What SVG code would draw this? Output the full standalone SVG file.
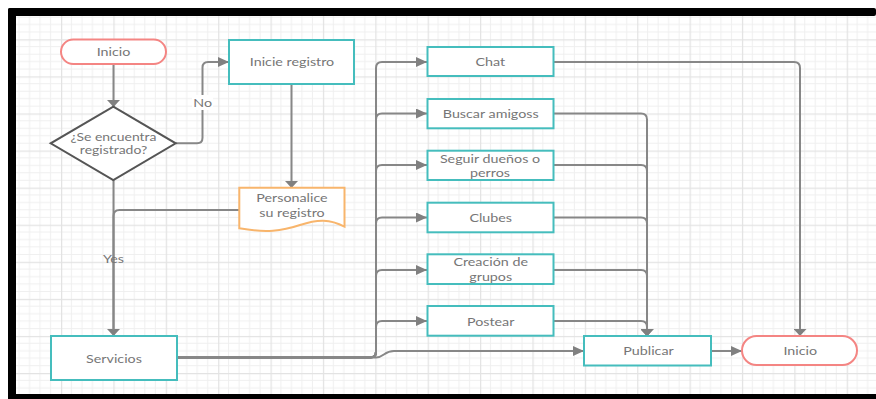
<svg xmlns="http://www.w3.org/2000/svg" width="876" height="399" viewBox="0 0 876 399">
  <style>
    text { font-family: Lato, "Open Sans", "Liberation Sans", sans-serif; font-size: 11px; fill: #767676; text-anchor: middle; }
    .proc { fill: #ffffff; stroke: #45bdbd; stroke-width: 2; }
    .term { fill: #ffffff; stroke: #f48583; stroke-width: 2; }
    .doc { fill: #ffffff; stroke: #f8b56c; stroke-width: 2; }
    .dec { fill: #ffffff; stroke: #555555; stroke-width: 2; }
    .wire { fill: none; stroke: #878787; stroke-width: 2; }
    .lbl { fill: #ffffff; }
  </style>
  <defs>
    <pattern id="grid" patternUnits="userSpaceOnUse" x="61" y="39.3" width="52.38" height="37.08">
      <g stroke="#efefef" stroke-width="1">
        <line x1="10.476" y1="0" x2="10.476" y2="37.08"/>
        <line x1="20.952" y1="0" x2="20.952" y2="37.08"/>
        <line x1="31.428" y1="0" x2="31.428" y2="37.08"/>
        <line x1="41.904" y1="0" x2="41.904" y2="37.08"/>
        <line x1="0" y1="7.416" x2="52.38" y2="7.416"/>
        <line x1="0" y1="14.832" x2="52.38" y2="14.832"/>
        <line x1="0" y1="22.248" x2="52.38" y2="22.248"/>
        <line x1="0" y1="29.664" x2="52.38" y2="29.664"/>
      </g>
      <g stroke="#e3e3e3" stroke-width="1.5">
        <line x1="0.5" y1="0" x2="0.5" y2="37.08"/>
        <line x1="0" y1="0.5" x2="52.38" y2="0.5"/>
      </g>
    </pattern>
    <marker id="arrH" markerUnits="userSpaceOnUse" markerWidth="11" markerHeight="10" refX="11" refY="5" orient="auto">
      <path d="M0,0 L11,5 L0,10 Z" fill="#808080"/>
    </marker>
    <marker id="arrV" markerUnits="userSpaceOnUse" markerWidth="7" markerHeight="13" refX="7" refY="6.5" orient="auto">
      <path d="M0,0 L7,6.5 L0,13 Z" fill="#808080"/>
    </marker>
  </defs>

  <!-- page and frame -->
  <rect x="0" y="0" width="876" height="399" fill="#ffffff"/>
  <rect x="16" y="16" width="860" height="378" fill="url(#grid)"/>
  <g fill="#000000">
    <rect x="8" y="8" width="868" height="8" rx="2"/>
    <rect x="8" y="8" width="8" height="391" rx="2"/>
    <rect x="8" y="394" width="868" height="5"/>
  </g>

  <!-- connectors -->
  <g id="connectors">
    <path class="wire" d="M113.5,64 V107" marker-end="url(#arrV)"/>
    <path class="wire" d="M176,143.3 H197 Q202.5,143.3 202.5,137.8 V67.5 Q202.5,62 208,62 H229" marker-end="url(#arrH)"/>
    <path class="wire" d="M113.5,180 V336" marker-end="url(#arrV)"/>
    <path class="wire" d="M291.5,84 V188" marker-end="url(#arrV)"/>
    <path class="wire" d="M239,210 H119.5 Q113.5,210 113.5,216 V330"/>

    <path class="wire" d="M177,357.5 H370 Q376,357.5 376,351.5 V68 Q376,62 382,62 H427" marker-end="url(#arrH)"/>
    <path class="wire" d="M177,357.5 H370 Q376,357.5 376,351.5 V119.5 Q376,113.5 382,113.5 H427" marker-end="url(#arrH)"/>
    <path class="wire" d="M177,357.5 H370 Q376,357.5 376,351.5 V171 Q376,165 382,165 H427" marker-end="url(#arrH)"/>
    <path class="wire" d="M177,357.5 H370 Q376,357.5 376,351.5 V223.5 Q376,217.5 382,217.5 H427" marker-end="url(#arrH)"/>
    <path class="wire" d="M177,357.5 H370 Q376,357.5 376,351.5 V276 Q376,270 382,270 H427" marker-end="url(#arrH)"/>
    <path class="wire" d="M177,357.5 H370 Q376,357.5 376,351.5 V327 Q376,321 382,321 H427" marker-end="url(#arrH)"/>
    <path class="wire" d="M177,357.5 H376 C384,357.5 384,351 394,351 H584" marker-end="url(#arrH)"/>

    <path class="wire" d="M553,62 H794 Q800,62 800,68 V336" marker-end="url(#arrV)"/>
    <path class="wire" d="M553,113.5 H641 Q647,113.5 647,119.5 V336" marker-end="url(#arrV)"/>
    <path class="wire" d="M553,165 H641 Q647,165 647,171 V336" marker-end="url(#arrV)"/>
    <path class="wire" d="M553,217.5 H641 Q647,217.5 647,223.5 V336" marker-end="url(#arrV)"/>
    <path class="wire" d="M553,270 H641 Q647,270 647,276 V336" marker-end="url(#arrV)"/>
    <path class="wire" d="M553,321 H641 Q647,321 647,327 V336" marker-end="url(#arrV)"/>
    <path class="wire" d="M711,351 H742" marker-end="url(#arrH)"/>

    <rect class="lbl" x="192" y="95" width="21" height="15"/>
    <text transform="translate(202.7,106.7) scale(1.3,1)">No</text>
    <text transform="translate(113.5,263.3) scale(1.3,1)">Yes</text>
  </g>

  <!-- nodes -->
  <g id="inicio-start">
    <rect class="term" x="61" y="39.5" width="105" height="24.5" rx="12.25"/>
    <text transform="translate(113.5,56) scale(1.3,1)">Inicio</text>
  </g>
  <g id="registrado">
    <polygon class="dec" points="113.3,106.7 175.7,143.3 113.3,180 50.7,143.3"/>
    <text transform="translate(113.5,140.7) scale(1.27,1)">¿Se encuentra</text>
    <text transform="translate(113.5,154) scale(1.27,1)">registrado?</text>
  </g>
  <g id="inicie-registro">
    <rect class="proc" x="229" y="40" width="125" height="44"/>
    <text transform="translate(292,66.3) scale(1.3,1)">Inicie registro</text>
  </g>
  <g id="personalice">
    <path class="doc" d="M239.3,187.7 H344.5 V226.7 C330,219 318,219 300,225 C282,231 266,233 239.3,228.3 Z"/>
    <text transform="translate(292,202.3) scale(1.3,1)">Personalice</text>
    <text transform="translate(292,216.7) scale(1.3,1)">su registro</text>
  </g>
  <g id="servicios">
    <rect class="proc" x="51" y="336" width="126" height="44"/>
    <text transform="translate(114,363) scale(1.3,1)">Servicios</text>
  </g>
  <g id="chat">
    <rect class="proc" x="427.5" y="47" width="126" height="29"/>
    <text transform="translate(490.3,66.3) scale(1.3,1)">Chat</text>
  </g>
  <g id="buscar-amigoss">
    <rect class="proc" x="427.5" y="99" width="126" height="29.3"/>
    <text transform="translate(490.7,118.3) scale(1.3,1)">Buscar amigoss</text>
  </g>
  <g id="seguir-duenos">
    <rect class="proc" x="427.5" y="150.7" width="126" height="29.3"/>
    <text transform="translate(490,163) scale(1.3,1)">Seguir dueños o</text>
    <text transform="translate(490,177.3) scale(1.3,1)">perros</text>
  </g>
  <g id="clubes">
    <rect class="proc" x="427.5" y="202.7" width="126" height="29.6"/>
    <text transform="translate(490.7,222.3) scale(1.3,1)">Clubes</text>
  </g>
  <g id="creacion-grupos">
    <rect class="proc" x="427.5" y="254.3" width="126" height="29.7"/>
    <text transform="translate(490.7,266.3) scale(1.3,1)">Creación de</text>
    <text transform="translate(490.7,280.7) scale(1.3,1)">grupos</text>
  </g>
  <g id="postear">
    <rect class="proc" x="427.5" y="306" width="126" height="29.7"/>
    <text transform="translate(490.7,326) scale(1.3,1)">Postear</text>
  </g>
  <g id="publicar">
    <rect class="proc" x="584" y="336" width="127" height="29.5"/>
    <text transform="translate(648.5,355.3) scale(1.3,1)">Publicar</text>
  </g>
  <g id="inicio-end">
    <rect class="term" x="742" y="336" width="115" height="29" rx="14.5"/>
    <text transform="translate(800.3,354.7) scale(1.3,1)">Inicio</text>
  </g>
</svg>
